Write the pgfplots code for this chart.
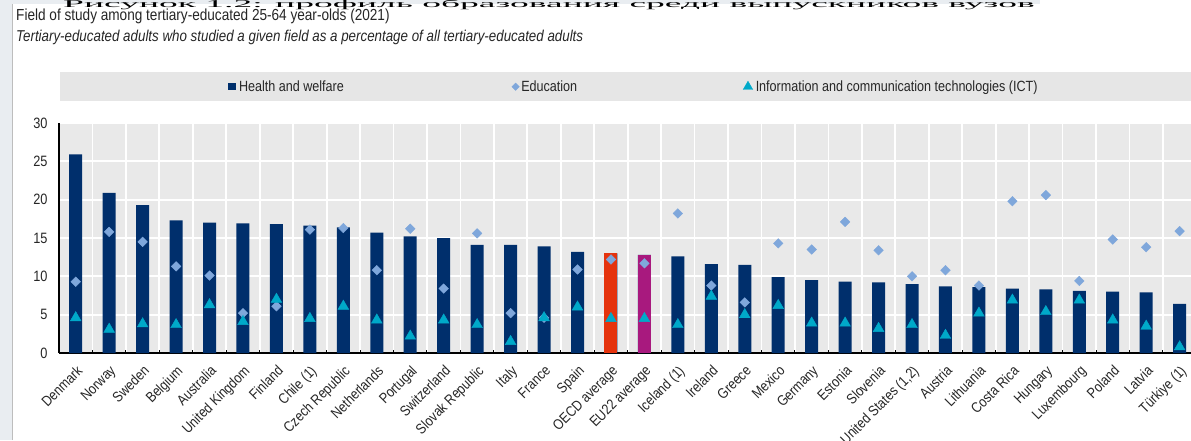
\documentclass[border=0pt]{standalone}
\usepackage{fontspec}
\setmainfont{Liberation Sans}[FakeStretch=0.85]
\newfontfamily\rusfont{Liberation Serif}
\usepackage{pgfplots}
\pgfplotsset{compat=1.18}
\usepackage{pgfplotstable}

\definecolor{navy}{HTML}{002F6C}
\definecolor{oecdred}{HTML}{E5330D}
\definecolor{eumag}{HTML}{A8197E}
\definecolor{edublue}{HTML}{7FA7DB}
\definecolor{ictcyan}{HTML}{00A9C9}
\definecolor{plotgray}{HTML}{E9E9E9}
\definecolor{leggray}{HTML}{E6E6E6}
\definecolor{framegray}{HTML}{E9EDF1}
\definecolor{linegray}{HTML}{BDBDBD}
\definecolor{txt}{HTML}{262626}

\pgfplotsset{
  barleg/.style={legend image code/.code={\fill[navy] (0pt,-3.5pt) rectangle (8pt,3.5pt);}},
  eduleg/.style={legend image code/.code={\draw[##1, mark size=2.6pt] plot coordinates {(3.7pt,0pt)};}},
  ictleg/.style={legend image code/.code={\draw[##1, mark size=5.5pt] plot coordinates {(4.8pt,0pt)};}},
}

\pgfplotstableread{
x health edu ict
0 25.9 9.3 4.6
1 20.9 15.8 3.1
2 19.3 14.5 3.8
3 17.3 11.3 3.7
4 17.0 10.1 6.3
5 16.9 5.2 4.1
6 16.8 6.1 7.0
7 16.6 16.1 4.5
8 16.4 16.3 6.1
9 15.7 10.8 4.3
10 15.2 16.2 2.2
11 15.0 8.4 4.3
12 14.1 15.6 3.7
13 14.1 5.2 1.5
14 13.9 4.6 4.6
15 13.2 10.9 6.0
16 13.0 12.2 4.5
17 12.8 11.7 4.5
18 12.6 18.2 3.7
19 11.6 8.8 7.4
20 11.5 6.6 5.0
21 9.9 14.3 6.2
22 9.5 13.5 3.9
23 9.3 17.1 3.9
24 9.2 13.4 3.2
25 9.0 10.0 3.7
26 8.7 10.8 2.3
27 8.6 8.8 5.2
28 8.4 19.8 6.9
29 8.3 20.6 5.4
30 8.1 9.4 6.9
31 8.0 14.8 4.3
32 7.9 13.8 3.5
33 6.4 15.9 0.8
}\data

\begin{document}
\begin{tikzpicture}
\useasboundingbox (0pt,0pt) rectangle (1191pt,440pt);
\fill[white] (0pt,0pt) rectangle (1191pt,440pt);
\fill[framegray] (0pt,0pt) rectangle (12pt,440pt);
\fill[framegray] (12pt,436pt) rectangle (1040pt,440pt);
\draw[linegray, line width=1pt] (12.5pt,0pt) -- (12.5pt,436pt);
\node[anchor=base west, font=\rusfont\fontsize{37.5}{37.5}\selectfont, inner sep=0pt,
      yscale=0.28, transform shape] at (63pt,432.5pt)
  {Рисунок 1.2: профиль образования среди выпускников вузов};
\node[anchor=west, font=\fontsize{16}{18}\selectfont, text=txt, inner sep=0pt] at (16pt,424pt)
  {Field of study among tertiary-educated 25-64 year-olds (2021)};
\node[anchor=west, font=\itshape\fontsize{15.7}{18}\selectfont, text=txt, inner sep=0pt] at (16pt,403pt)
  {Tertiary-educated adults who studied a given field as a percentage of all tertiary-educated adults};
\fill[leggray] (60pt,339pt) rectangle (1191pt,368pt);

\begin{axis}[
  at={(59pt,87pt)}, anchor=south west,
  scale only axis, width=1132pt, height=230pt,
  xmin=-0.5, xmax=33.34, ymin=0, ymax=30,
  axis x line*=bottom, axis y line*=left,
  axis line style={black, line width=1.4pt, -},
  axis background/.style={fill=plotgray},
  xtick={0,...,33},
  xticklabels={Denmark, Norway, Sweden, Belgium, Australia, United Kingdom, Finland, Chile (1), Czech Republic, Netherlands, Portugal, Switzerland, Slovak Republic, Italy, France, Spain, OECD average, EU22 average, Iceland (1), Ireland, Greece, Mexico, Germany, Estonia, Slovenia, {United States (1,2)}, Austria, Lithuania, Costa Rica, Hungary, Luxembourg, Poland, Latvia, Türkiye (1)},
  minor xtick={0.5,1.5,...,32.5},
  major x tick style={draw=none},
  minor x tick style={black, line width=1pt},
  minor tick length=3pt,
  xminorgrids=true,
  minor x grid style={white, line width=1.8pt},
  ytick={0,5,...,30},
  ymajorgrids=true,
  major y grid style={white, line width=1.8pt},
  ytick style={draw=none},
  /pgf/number format/assume math mode=true,
  xticklabel style={rotate=45, anchor=north east, font=\fontsize{14.6}{14.6}\selectfont, text=txt, inner sep=1pt, xshift=-7pt, yshift=-7pt},
  yticklabel style={font=\fontsize{15}{15}\selectfont, text=txt, xshift=-8pt},
  legend columns=3,
  legend style={at={(0.1493,1.1578)}, anchor=west, draw=none, fill=none, inner sep=0pt, outer sep=0pt,
    font=\fontsize{14.8}{16}\selectfont, text=txt, nodes={inner sep=0pt, anchor=west},
    /tikz/column 1/.style={column sep=3pt},
    /tikz/column 2/.style={column sep=168pt},
    /tikz/column 3/.style={column sep=2pt},
    /tikz/column 4/.style={column sep=166pt},
    /tikz/column 5/.style={column sep=3pt}},
]
\addplot[ybar, bar width=13pt, bar shift=0pt, fill=navy, draw=none, barleg]
  table[x=x, y=health] {\data};
\addlegendentry{Health and welfare}
\addplot[ybar, bar width=13pt, bar shift=0pt, fill=oecdred, draw=none, forget plot]
  coordinates {(16,13.0)};
\addplot[ybar, bar width=13pt, bar shift=0pt, fill=eumag, draw=none, forget plot]
  coordinates {(17,12.8)};
\addplot[only marks, mark=square*, mark size=3.4pt, color=edublue,
  mark options={rotate=45, fill=edublue, draw=none}, eduleg]
  table[x=x, y=edu] {\data};
\addlegendentry{Education}
\addplot[only marks, mark=triangle*, mark size=6.2pt, color=ictcyan,
  mark options={fill=ictcyan, draw=none}, ictleg]
  table[x=x, y=ict] {\data};
\addlegendentry{Information and communication technologies (ICT)}
\end{axis}
\end{tikzpicture}
\end{document}
